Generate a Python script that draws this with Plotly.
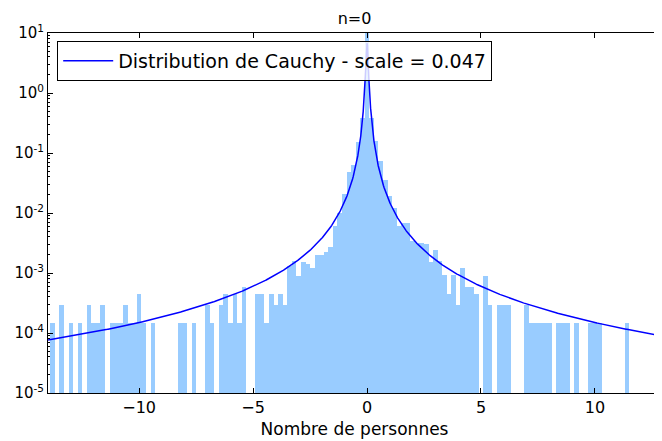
import numpy as np
import plotly.graph_objects as go

# ---- data ----
bin_width = 0.2
# densities for bins centered at -14.0, -13.8, ..., -0.2  (70 bins)
left_density = [
    0, 1.47e-4, 0, 2.94e-4, 0, 1.47e-4, 0, 1.47e-4, 0, 2.94e-4,          # -14.0 .. -12.2
    1.47e-4, 1.47e-4, 2.94e-4, 0, 1.47e-4, 1.47e-4, 1.47e-4, 2.94e-4, 1.47e-4, 1.47e-4,  # -12.0 .. -10.2
    4.41e-4, 1.47e-4, 0, 1.47e-4, 0, 0, 0, 0, 0, 1.47e-4,                # -10.0 .. -8.2
    1.47e-4, 0, 1.47e-4, 0, 0, 2.94e-4, 1.47e-4, 0, 2.94e-4, 4.41e-4,    # -8.0 .. -6.2
    1.47e-4, 4.41e-4, 1.47e-4, 5.88e-4, 0, 0, 4.41e-4, 4.41e-4, 1.47e-4, 4.41e-4,  # -6.0 .. -4.2
    2.94e-4, 4.41e-4, 2.94e-4, 1.3e-3, 1.6e-3, 9.0e-4, 1.5e-3, 1.4e-3, 1.2e-3, 2.0e-3,  # -4.0 .. -2.2
    2.0e-3, 2.2e-3, 2.7e-3, 6.0e-3, 1.0e-2, 2.1e-2, 4.9e-2, 6.3e-2, 0.15, 0.38,  # -2.0 .. -0.2
]
center_density = [12.0]  # bin centered at 0
# densities for bins centered at 0.2, 0.4, ..., 11.6 (58 bins)
right_density = [
    0.38, 0.16, 0.075, 0.036, 0.019, 0.012, 6.0e-3, 6.8e-3, 6.9e-3, 3.4e-3,   # 0.2 .. 2.0
    3.2e-3, 3.2e-3, 3.0e-3, 1.5e-3, 2.4e-3, 1.6e-3, 9.3e-4, 4.41e-4, 9.3e-4, 2.94e-4,  # 2.2 .. 4.0
    1.2e-3, 5.88e-4, 5.88e-4, 4.41e-4, 0, 8.82e-4, 2.94e-4, 0, 2.94e-4, 2.94e-4,  # 4.2 .. 6.0
    2.94e-4, 0, 0, 0, 2.94e-4, 1.47e-4, 1.47e-4, 1.47e-4, 1.47e-4, 1.47e-4,  # 6.2 .. 8.0
    0, 1.47e-4, 1.47e-4, 1.47e-4, 0, 1.47e-4, 0, 0, 1.47e-4, 1.47e-4,      # 8.2 .. 10.0
    1.47e-4, 0, 0, 0, 0, 0, 1.47e-4, 0,                                   # 10.2 .. 11.6
]
densities = left_density + center_density + right_density
bin_centers = [round(bin_width * j, 1) for j in range(-len(left_density), len(right_density) + 1)]

cauchy_scale = 0.047
x_tick_vals = [-10, -5, 0, 5, 10]
x_tick_text = ["\u221210", "\u22125", "0", "5", "10"]
y_tick_vals = [1e-5, 1e-4, 1e-3, 1e-2, 1e-1, 1e0, 1e1]
y_tick_text = ["10<sup>-5</sup>", "10<sup>-4</sup>", "10<sup>-3</sup>", "10<sup>-2</sup>",
               "10<sup>-1</sup>", "10<sup>0</sup>", "10<sup>1</sup>"]

# ---- figure ----
bar_y = [d if d > 0 else None for d in densities]
xs = np.concatenate([np.linspace(-14, -0.5, 400), np.linspace(-0.5, 0.5, 801), np.linspace(0.5, 13, 400)])
pdf = 1.0 / (np.pi * cauchy_scale * (1 + (xs / cauchy_scale) ** 2))

fig = go.Figure()
fig.add_trace(go.Bar(
    x=bin_centers, y=bar_y, width=bin_width,
    marker=dict(color="#99ccff", line=dict(width=0)),
    showlegend=False, hoverinfo="skip",
))
fig.add_trace(go.Scatter(
    x=xs, y=pdf, mode="lines",
    line=dict(color="#0000ff", width=1.5),
    name="Distribution de Cauchy - scale = 0.047",
))

font_family = "DejaVu Sans"
# page body adds an 8px offset, so the figure is sized/margined to compensate
fig.update_layout(
    width=654, height=433,
    margin=dict(l=40, r=1, t=25, b=48),
    paper_bgcolor="white", plot_bgcolor="white",
    bargap=0,
    font=dict(family=font_family, size=15, color="black"),
    title=dict(text="n=0", x=0.5, xref="paper", xanchor="center",
               y=1 - 10 / 433, yref="container", yanchor="middle",
               font=dict(size=16, family=font_family, color="black")),
    showlegend=True,
    legend=dict(x=0.015, y=0.978, xanchor="left", yanchor="top",
                bgcolor="rgba(255,255,255,0.8)", bordercolor="black", borderwidth=1,
                itemwidth=50,
                font=dict(size=19, family=font_family, color="black")),
)
fig.update_xaxes(
    range=[-14, 12.9], showgrid=False, zeroline=False,
    showline=True, linecolor="black", linewidth=1, mirror="ticks",
    ticks="inside", ticklen=5, tickcolor="black",
    tickvals=x_tick_vals, ticktext=x_tick_text,
    tickfont=dict(size=16, family=font_family),
    title=dict(text="Nombre de personnes", font=dict(size=17, family=font_family), standoff=6),
)
fig.update_yaxes(
    type="log", range=[-5, 1], showgrid=False, zeroline=False,
    showline=True, linecolor="black", linewidth=1, mirror="ticks",
    ticks="inside", ticklen=5, tickcolor="black",
    tickvals=y_tick_vals, ticktext=y_tick_text,
    tickfont=dict(size=15, family=font_family),
    minor=dict(ticks="inside", ticklen=2, tickcolor="black", dtick="D1", showgrid=False),
)

fig.write_html("out.html")
